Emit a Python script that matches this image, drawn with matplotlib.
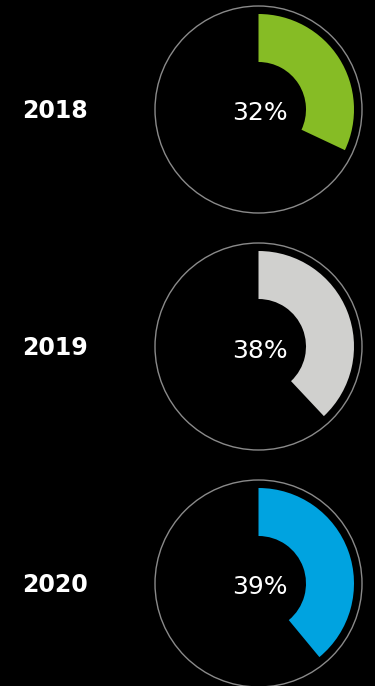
import matplotlib.pyplot as plt
from matplotlib.patches import Wedge, Circle

years = ["2018", "2019", "2020"]
shares = [32, 38, 39]
colors = ["#86BC25", "#D0D0CE", "#00A3E0"]

W, H = 375, 686
fig = plt.figure(figsize=(W / 100, H / 100), dpi=100, facecolor="black")
ax = fig.add_axes([0, 0, 1, 1])
ax.set_xlim(0, W)
ax.set_ylim(0, H)
ax.set_aspect("equal")
ax.axis("off")
ax.set_facecolor("black")

cx = 258.5
row_y = [109.5, 346.5, 583.5]  # from top, in pixels

for year, pct, col, py in zip(years, shares, colors, row_y):
    cy = H - py
    # thin ring around each donut
    ax.add_patch(Circle((cx, cy), 103.5, fill=False, edgecolor="#8a8a8a", linewidth=1.0))
    # clockwise from 12 o'clock
    ax.add_patch(Wedge((cx, cy), 95.5, 90 - pct * 3.6, 90, width=48, facecolor=col, edgecolor="none"))
    ax.text(cx + 1, cy - 4, f"{pct}%", color="white", fontsize=18, ha="center", va="center")
    ax.text(22, cy - 1.5, year, color="white", fontsize=17, fontweight="bold", ha="left", va="center")

fig.savefig("out.png", dpi=100, facecolor="black")
